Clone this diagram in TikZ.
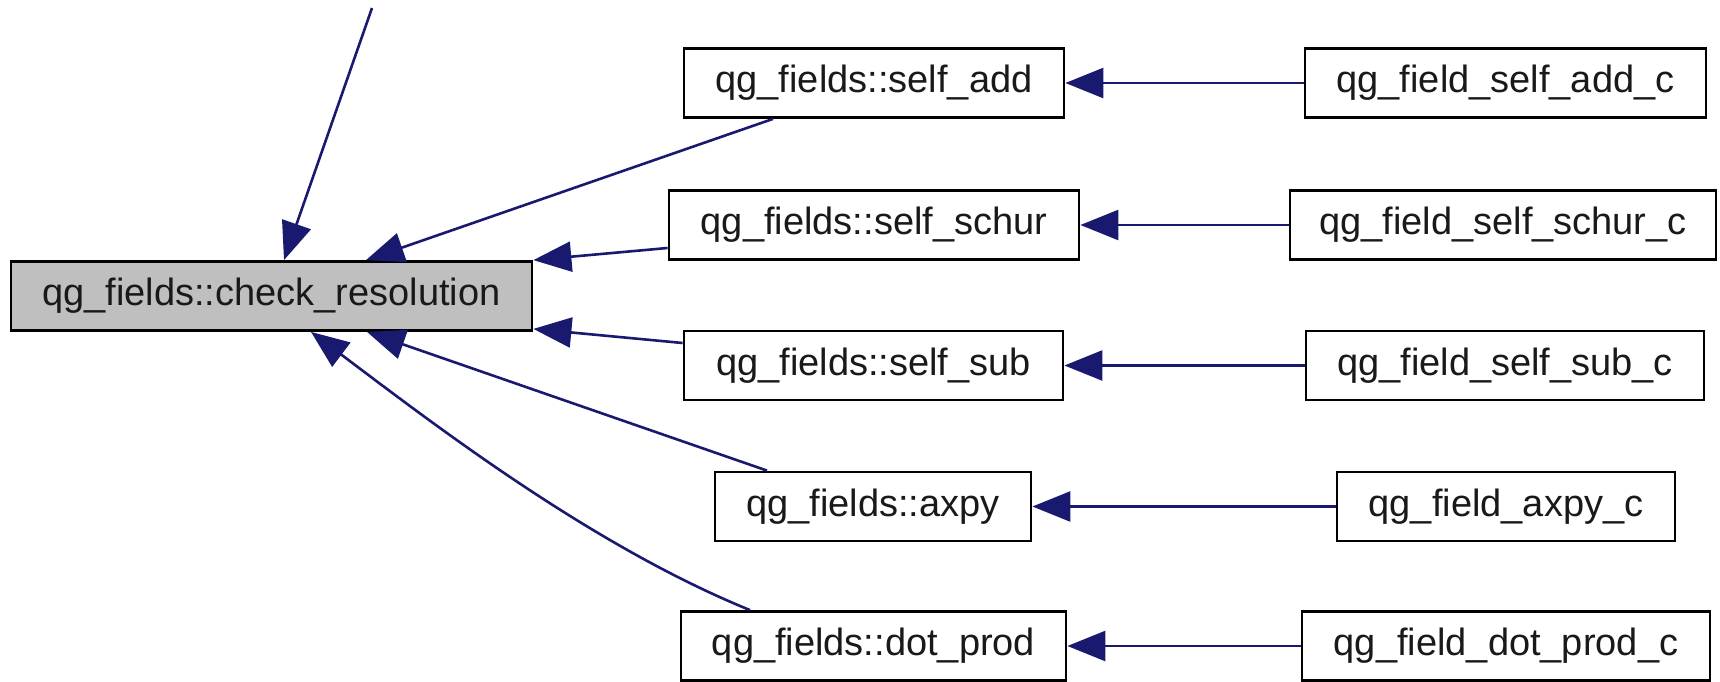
\documentclass[tikz,border=0pt]{standalone}
\usepackage{fontspec}
\setmainfont{Liberation Sans}
\usetikzlibrary{arrows.meta,calc}
\definecolor{edgeblue}{HTML}{191970}
\definecolor{mainfill}{HTML}{BFBFBF}
\begin{document}
\begin{tikzpicture}[x=1pt,y=-1pt,
  box/.style={draw=black, line width=2.8pt, minimum height=69pt, inner sep=0pt, fill=white,
    font=\fontsize{38}{44}\selectfont, text=black!90},
  arr/.style={draw=edgeblue, line width=2.6pt, -{Triangle[length=38pt,width=30pt]}, edgeblue}]
\useasboundingbox (0,0) rectangle (1720,682);
% nodes
\node[box, fill=mainfill, minimum width=521pt] (main) at (271.5,296) {qg\_fields::check\_resolution};
\node[box, minimum width=380pt] (sa) at (874,83) {qg\_fields::self\_add};
\node[box, minimum width=401pt] (sac) at (1505.5,83) {qg\_field\_self\_add\_c};
\node[box, minimum width=410pt] (ss) at (874,225) {qg\_fields::self\_schur};
\node[box, minimum width=426pt] (ssc) at (1503,225) {qg\_field\_self\_schur\_c};
\node[box, minimum width=379pt] (sb) at (873.5,365.5) {qg\_fields::self\_sub};
\node[box, minimum width=398pt] (sbc) at (1505,365.5) {qg\_field\_self\_sub\_c};
\node[box, minimum width=316pt] (ax) at (873,506.5) {qg\_fields::axpy};
\node[box, minimum width=338pt] (axc) at (1506,506.5) {qg\_field\_axpy\_c};
\node[box, minimum width=385pt] (dp) at (873.5,646) {qg\_fields::dot\_prod};
\node[box, minimum width=408pt] (dpc) at (1506,646) {qg\_field\_dot\_prod\_c};
\coordinate (topin) at (372,8);
% edges
\draw[arr] (topin) -- (main);
\draw[arr] ($(sa.south)+(-101,0)$) -- ($(main.north)+(94.5,0)$);
\draw[arr] ($(ss.west)+(0,23)$) -- (main.north east);
\draw[arr] ($(sb.west)+(0,-22.5)$) -- ($(main.south east)+(0,-3)$);
\draw[arr] ($(ax.north)+(-106,0)$) -- ($(main.south)+(95.5,0)$);
\draw[arr] ($(dp.north)+(-123.5,0)$) .. controls (590,545) and (431,422) .. ($(main.south)+(39.5,0)$);
\draw[arr] (sac) -- (sa);
\draw[arr] (ssc) -- (ss);
\draw[arr] (sbc) -- (sb);
\draw[arr] (axc) -- (ax);
\draw[arr] (dpc) -- (dp);
\end{tikzpicture}
\end{document}
